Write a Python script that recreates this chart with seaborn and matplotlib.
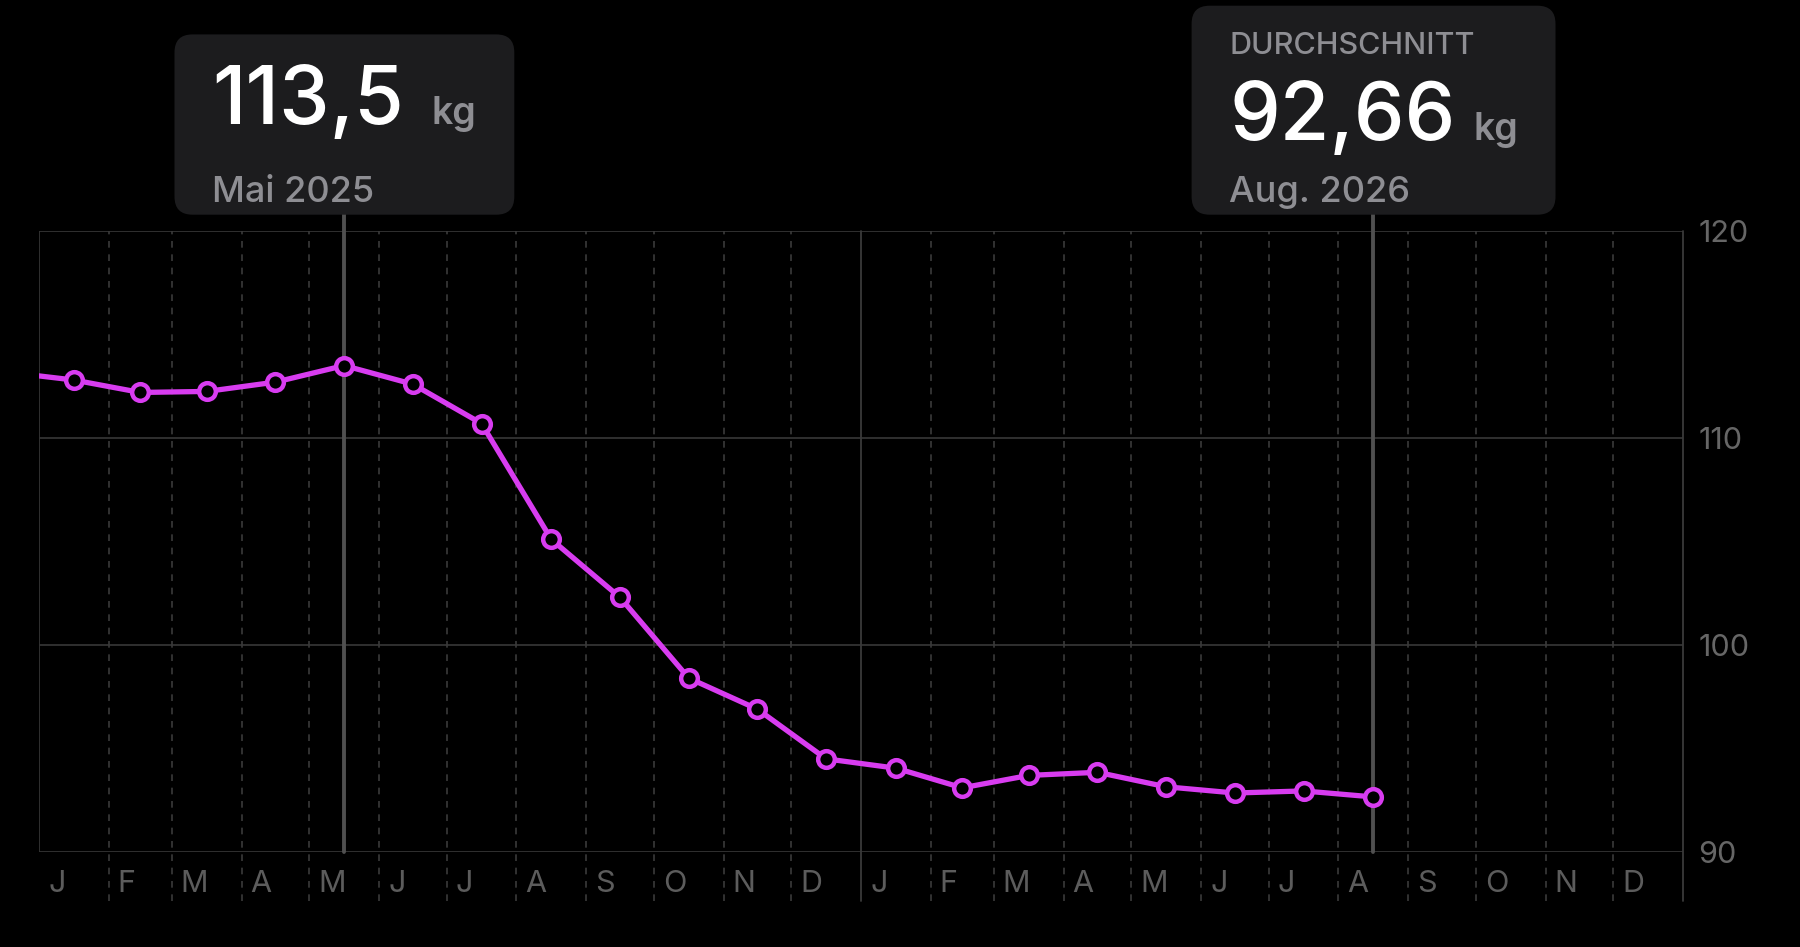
import pandas as pd
import seaborn as sns
import matplotlib.pyplot as plt
from matplotlib.patches import FancyBboxPatch
from matplotlib.transforms import ScaledTranslation

# monthly average weight (kg), Dec 2024 .. Aug 2026
months = ['2024-12', '2025-01', '2025-02', '2025-03', '2025-04', '2025-05', '2025-06',
          '2025-07', '2025-08', '2025-09', '2025-10', '2025-11', '2025-12',
          '2026-01', '2026-02', '2026-03', '2026-04', '2026-05', '2026-06',
          '2026-07', '2026-08']
weights = [113.2, 112.8, 112.2, 112.25, 112.7, 113.5, 112.6,
           110.7, 105.1, 102.3, 98.4, 96.9, 94.5,
           94.05, 93.1, 93.7, 93.85, 93.15, 92.85,
           92.95, 92.66]
month_labels = list('JFMAMJJASOND') * 2
y_ticks = [90, 100, 110, 120]
selected = ['2025-05', '2026-08']

purple = '#d83cf0'
bg = 'black'

sns.set_theme(style='dark')
plt.rcParams['font.family'] = ['Inter', 'DejaVu Sans']
plt.rcParams['figure.facecolor'] = bg
plt.rcParams['axes.facecolor'] = bg


def mid_month(m):
    start = pd.Timestamp(m + '-01')
    end = start + pd.offsets.MonthBegin(1)
    return start + (end - start) / 2


df = pd.DataFrame({'date': [mid_month(m) for m in months], 'kg': weights})

fig = plt.figure(figsize=(18, 9.47), dpi=100)
W, H = 1800, 947
ax = fig.add_axes([39 / W, 1 - 852 / H, (1683 - 39) / W, (852 - 231) / H])

x0 = pd.Timestamp('2025-01-01')
x1 = pd.Timestamp('2027-01-01')
ax.set_xlim(x0, x1)
ax.set_ylim(90, 120)
for s in ax.spines.values():
    s.set_visible(False)
ax.grid(False)

# grid
for v in y_ticks:
    ax.axhline(v, color='#333333', lw=1.3, zorder=0)
month_starts = pd.date_range(x0, '2026-12-01', freq='MS')
for m in month_starts[1:]:
    if m.month == 1:
        ax.axvline(m, ymin=-0.079, ymax=1, color='#3a3a3a', lw=1.3, clip_on=False, zorder=0)
    else:
        ax.axvline(m, ymin=-0.079, ymax=1, color='#3a3a3a', lw=1.2, ls=(0, (4, 4)),
                   clip_on=False, zorder=0)
ax.axvline(x0, ymin=0, ymax=1, color='#333333', lw=1.3, zorder=0)
ax.axvline(x1, ymin=-0.079, ymax=1, color='#3a3a3a', lw=1.3, clip_on=False, zorder=0)

# selection lines
for m in selected:
    ax.axvline(mid_month(m), ymin=0, ymax=1.04, color='#505050', lw=2.8,
               clip_on=False, zorder=1)

sns.lineplot(data=df, x='date', y='kg', ax=ax, color=purple, lw=3.8, marker='o',
             markersize=12, markerfacecolor='black', markeredgecolor=purple,
             markeredgewidth=3.2, zorder=3)
ax.set_xlabel('')
ax.set_ylabel('')

# ticks
ax.set_xticks(month_starts)
ax.set_xticklabels(month_labels)
ax.tick_params(axis='x', length=0, pad=13, labelsize=22, labelcolor='#5c5c5c')
for lab in ax.get_xticklabels():
    lab.set_horizontalalignment('left')
    lab.set_transform(lab.get_transform() + ScaledTranslation(0.09, 0, fig.dpi_scale_trans))
ax.yaxis.tick_right()
ax.set_yticks(y_ticks)
ax.set_yticklabels([str(v) for v in y_ticks])
ax.tick_params(axis='y', length=0, pad=11, labelsize=22, labelcolor='#666666')


def px(x, y):
    return x / W, 1 - y / H


# tooltip boxes
box_fc = '#1c1c1e'
fig.add_artist(FancyBboxPatch((1.745, 7.323), 3.398, 1.803,
                              boxstyle='round,pad=0,rounding_size=0.18',
                              transform=fig.dpi_scale_trans, fc=box_fc, ec='none'))
fig.add_artist(FancyBboxPatch((11.916, 7.323), 3.639, 2.09,
                              boxstyle='round,pad=0,rounding_size=0.18',
                              transform=fig.dpi_scale_trans, fc=box_fc, ec='none'))

gray = '#8e8e93'
fig.text(*px(212, 124), '113,5', color='white', fontsize=58, va='baseline', ha='left',
         fontweight='medium')
fig.text(*px(432, 124), 'kg', color=gray, fontsize=27, va='baseline', ha='left',
         fontweight='semibold')
fig.text(*px(212, 202), 'Mai 2025', color=gray, fontsize=26, va='baseline', ha='left',
         fontweight='medium')

fig.text(*px(1229, 54), 'DURCHSCHNITT', color=gray, fontsize=22, va='baseline', ha='left',
         fontweight='medium')
fig.text(*px(1229, 140), '92,66', color='white', fontsize=58, va='baseline', ha='left',
         fontweight='medium')
fig.text(*px(1474, 140), 'kg', color=gray, fontsize=27, va='baseline', ha='left',
         fontweight='semibold')
fig.text(*px(1229, 202), 'Aug. 2026', color=gray, fontsize=26, va='baseline', ha='left',
         fontweight='medium')

fig.savefig('out.png', dpi=100, facecolor=bg)
